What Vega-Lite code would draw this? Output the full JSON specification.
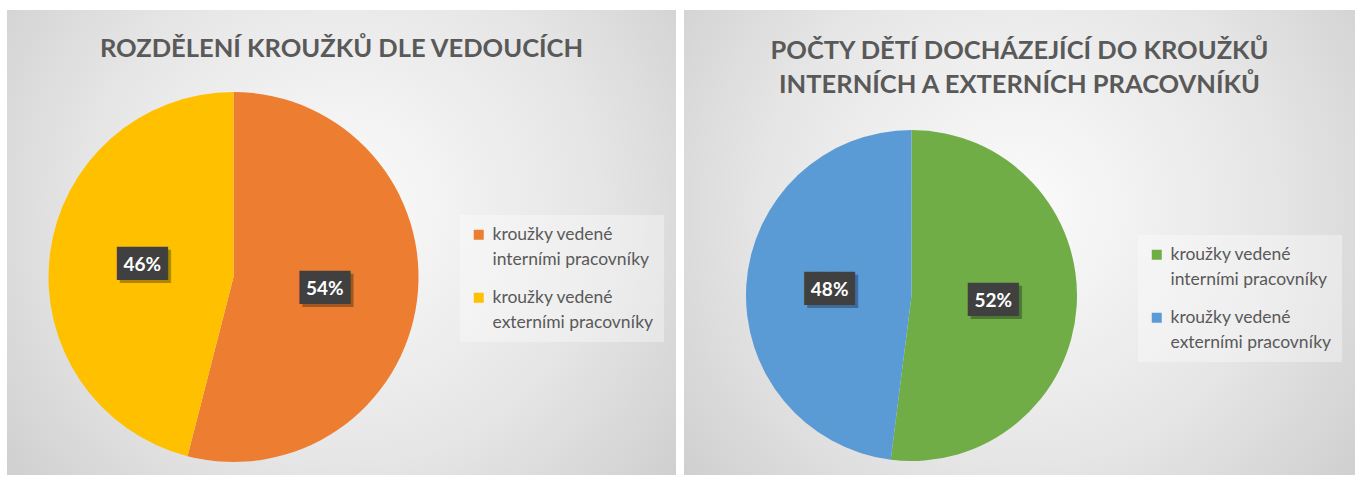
{
  "$schema": "https://vega.github.io/schema/vega-lite/v6.json",
  "padding": {"left": 7, "top": 10, "right": 0, "bottom": 2},
  "background": "#ffffff",
  "spacing": 8,
  "config": {
    "view": {"stroke": null},
    "title": {"font": "Lato", "fontWeight": "bold", "fontSize": 25.5, "color": "#595959", "anchor": "middle", "baseline": "bottom", "lineHeight": 34},
    "legend": {
      "orient": "none", "title": null, "symbolType": "M-1,-0.8H1V1.2H-1Z", "symbolSize": 100, "symbolStrokeWidth": 0,
      "labelFont": "Lato", "labelFontSize": 17.5, "labelColor": "#595959", "labelBaseline": "alphabetic",
      "labelLimit": 0, "labelOffset": 5, "fillColor": "rgba(255,255,255,0.35)", "padding": 10, "rowPadding": 19
    }
  },
  "resolve": {"scale": {"color": "independent"}, "legend": {"color": "independent"}},
  "hconcat": [
    {
      "width": 669, "height": 465,
      "title": {"text": "ROZDĚLENÍ KROUŽKŮ DLE VEDOUCÍCH", "offset": -52},
      "data": {"values": [
        {"kategorie": "kroužky vedené|interními pracovníky", "podil": 54, "popisek": "54%", "o": 1},
        {"kategorie": "kroužky vedené|externími pracovníky", "podil": 46, "popisek": "46%", "o": 2}
      ]},
      "layer": [
        {
          "data": {"values": [{}]},
          "mark": {"type": "rect", "color": {"gradient": "radial", "x1": 0.5, "y1": 0.45, "x2": 0.5, "y2": 0.45, "r1": 0, "r2": 0.75,
            "stops": [{"offset": 0, "color": "#fbfbfb"}, {"offset": 0.5, "color": "#e6e6e6"}, {"offset": 1, "color": "#c6c6c6"}]}},
          "encoding": {}
        },
        {
          "mark": {"type": "arc", "radius": 185, "x": 226.5, "y": 267},
          "encoding": {
            "theta": {"field": "podil", "type": "quantitative", "stack": true},
            "order": {"field": "o"},
            "color": {"field": "kategorie", "type": "nominal",
              "scale": {"domain": ["kroužky vedené|interními pracovníky", "kroužky vedené|externími pracovníky"], "range": ["#ED7D31", "#FFC000"]},
              "legend": {"legendX": 453, "legendY": 205, "labelExpr": "split(datum.label, '|')",
                "encode": {"labels": {"update": {"lineHeight": {"value": 25}, "dy": {"value": 6}}}}}}
          }
        },
        {
          "mark": {"type": "text", "x": 229.5, "y": 270, "radius": 92, "text": "███", "font": "DejaVu Sans Mono", "fontSize": 28, "color": "#000000", "opacity": 0.3, "baseline": "middle"},
          "encoding": {"theta": {"field": "podil", "type": "quantitative", "stack": true}, "order": {"field": "o"}}
        },
        {
          "mark": {"type": "text", "x": 226.5, "y": 267, "radius": 92, "text": "███", "font": "DejaVu Sans Mono", "fontSize": 28, "color": "#404040", "baseline": "middle"},
          "encoding": {"theta": {"field": "podil", "type": "quantitative", "stack": true}, "order": {"field": "o"}}
        },
        {
          "mark": {"type": "text", "x": 226.5, "y": 267, "radius": 92, "font": "Lato", "fontWeight": "bold", "fontSize": 19, "color": "#ffffff", "baseline": "middle"},
          "encoding": {"theta": {"field": "podil", "type": "quantitative", "stack": true}, "order": {"field": "o"}, "text": {"field": "popisek"}}
        }
      ]
    },
    {
      "width": 671, "height": 465,
      "title": {"text": ["POČTY DĚTÍ DOCHÁZEJÍCÍ DO KROUŽKŮ", "INTERNÍCH A EXTERNÍCH PRACOVNÍKŮ"], "offset": -88},
      "data": {"values": [
        {"kategorie": "kroužky vedené|interními pracovníky", "podil": 52, "popisek": "52%", "o": 1},
        {"kategorie": "kroužky vedené|externími pracovníky", "podil": 48, "popisek": "48%", "o": 2}
      ]},
      "layer": [
        {
          "data": {"values": [{}]},
          "mark": {"type": "rect", "color": {"gradient": "radial", "x1": 0.5, "y1": 0.45, "x2": 0.5, "y2": 0.45, "r1": 0, "r2": 0.75,
            "stops": [{"offset": 0, "color": "#fbfbfb"}, {"offset": 0.5, "color": "#e6e6e6"}, {"offset": 1, "color": "#c6c6c6"}]}},
          "encoding": {}
        },
        {
          "mark": {"type": "arc", "radius": 165.5, "x": 227.5, "y": 285.5},
          "encoding": {
            "theta": {"field": "podil", "type": "quantitative", "stack": true},
            "order": {"field": "o"},
            "color": {"field": "kategorie", "type": "nominal",
              "scale": {"domain": ["kroužky vedené|interními pracovníky", "kroužky vedené|externími pracovníky"], "range": ["#70AD47", "#5B9BD5"]},
              "legend": {"legendX": 454, "legendY": 225, "labelExpr": "split(datum.label, '|')",
                "encode": {"labels": {"update": {"lineHeight": {"value": 25}, "dy": {"value": 6}}}}}}
          }
        },
        {
          "mark": {"type": "text", "x": 230.5, "y": 288.5, "radius": 82, "text": "███", "font": "DejaVu Sans Mono", "fontSize": 28, "color": "#000000", "opacity": 0.3, "baseline": "middle"},
          "encoding": {"theta": {"field": "podil", "type": "quantitative", "stack": true}, "order": {"field": "o"}}
        },
        {
          "mark": {"type": "text", "x": 227.5, "y": 285.5, "radius": 82, "text": "███", "font": "DejaVu Sans Mono", "fontSize": 28, "color": "#404040", "baseline": "middle"},
          "encoding": {"theta": {"field": "podil", "type": "quantitative", "stack": true}, "order": {"field": "o"}}
        },
        {
          "mark": {"type": "text", "x": 227.5, "y": 285.5, "radius": 82, "font": "Lato", "fontWeight": "bold", "fontSize": 19, "color": "#ffffff", "baseline": "middle"},
          "encoding": {"theta": {"field": "podil", "type": "quantitative", "stack": true}, "order": {"field": "o"}, "text": {"field": "popisek"}}
        }
      ]
    }
  ]
}
